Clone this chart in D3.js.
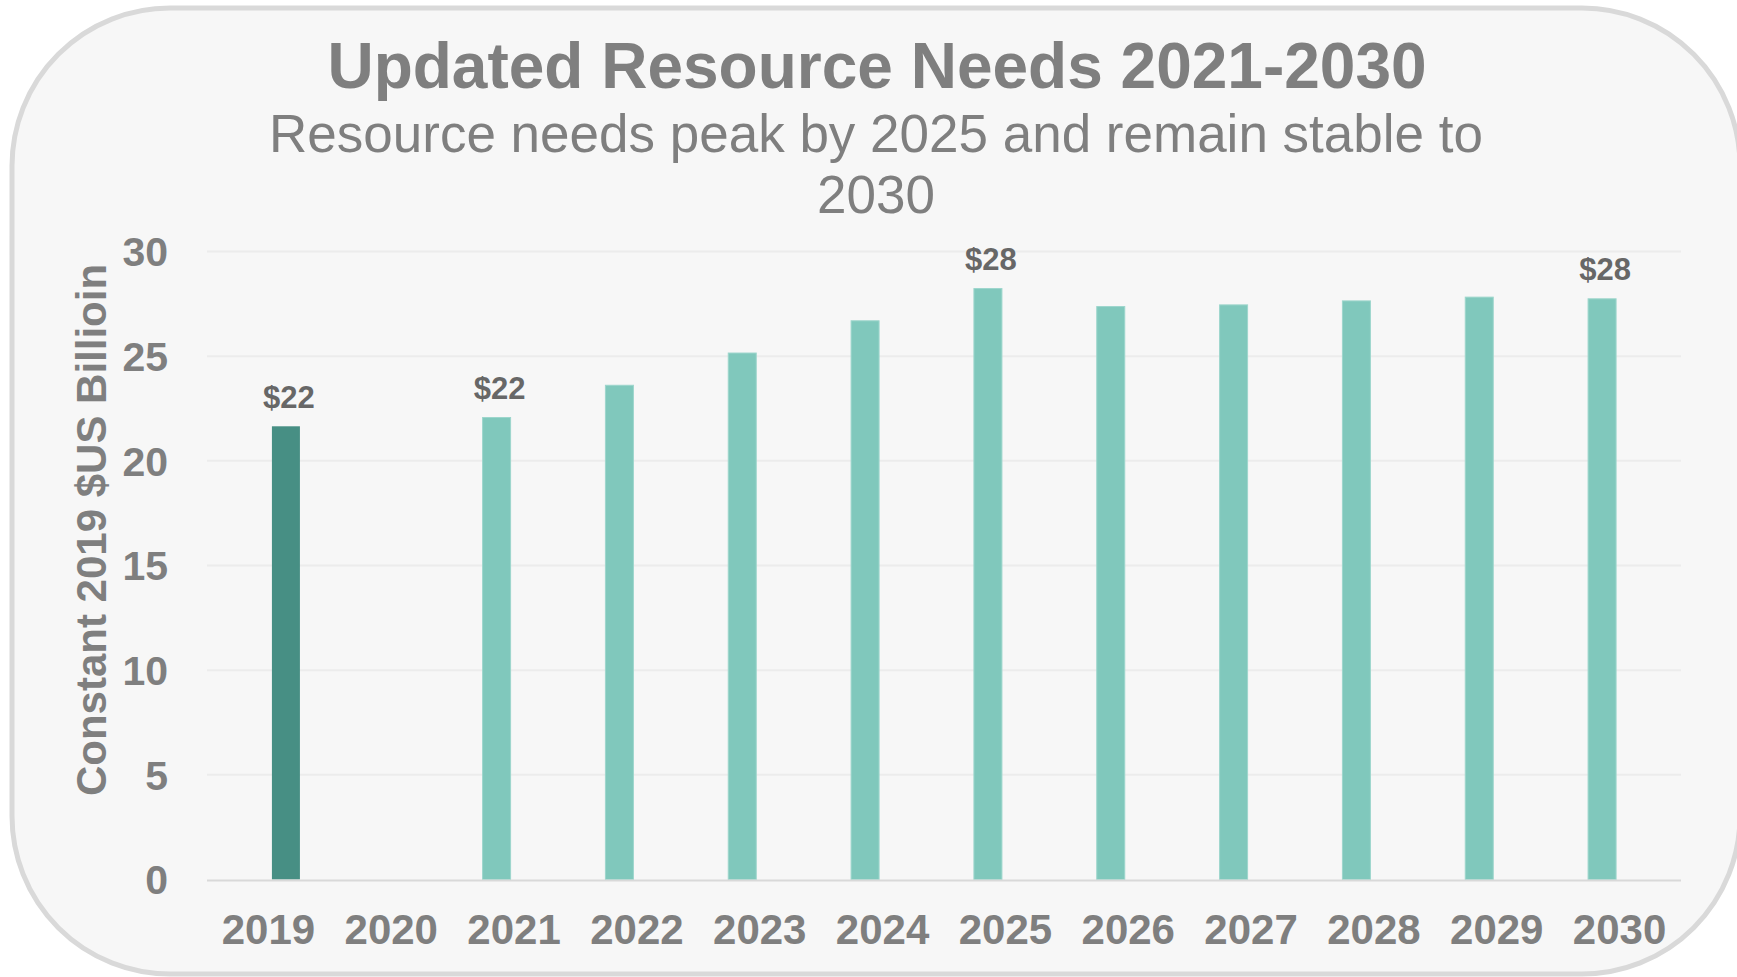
<!DOCTYPE html>
<html>
<head>
<meta charset="utf-8">
<script src="https://cdn.jsdelivr.net/npm/d3@7"></script>
<style>
  html, body { margin: 0; padding: 0; background: #ffffff; }
  svg { display: block; font-family: "Liberation Sans", Arial, Helvetica, sans-serif; }
</style>
</head>
<body>
<svg id="chart" width="1737" height="977"></svg>
<script>
// Resource needs, constant 2019 $US billion
const years = ["2019", "2020", "2021", "2022", "2023", "2024", "2025", "2026", "2027", "2028", "2029", "2030"];
const baselineNeeds = [21.65, null, null, null, null, null, null, null, null, null, null, null];
const projectedNeeds = [null, null, 22.07, 23.61, 25.15, 26.69, 28.23, 27.37, 27.45, 27.64, 27.82, 27.74];
const labelledYears = ["2019", "2021", "2025", "2030"];
const yTicks = [0, 5, 10, 15, 20, 25, 30];
const seriesKeys = ["projected", "baseline"];
const seriesColors = { projected: "#80c8bc", baseline: "#478f84" };

const titleText = "Updated Resource Needs 2021-2030";
const subtitleLines = ["Resource needs peak by 2025 and remain stable to", "2030"];
const yAxisTitle = "Constant 2019 $US Billioin";

const svg = d3.select("#chart");
const plot = { left: 207, right: 1681, top: 251.5, bottom: 879.5 };

// Rounded card background
svg.append("rect")
  .attr("x", 12).attr("y", 8)
  .attr("width", 1728).attr("height", 966)
  .attr("rx", 158).attr("ry", 158)
  .attr("fill", "#f7f7f7")
  .attr("stroke", "#d9d9d9")
  .attr("stroke-width", 5);

// Titles
svg.append("text")
  .attr("x", 877).attr("y", 88)
  .attr("text-anchor", "middle")
  .attr("font-size", 64).attr("font-weight", "bold")
  .attr("fill", "#7f7f7f")
  .text(titleText);

svg.append("text")
  .attr("text-anchor", "middle")
  .attr("font-size", 53)
  .attr("fill", "#7f7f7f")
  .selectAll("tspan")
  .data(subtitleLines)
  .join("tspan")
  .attr("x", 876)
  .attr("y", (d, i) => 152 + i * 61)
  .text(d => d);

// Scales
const x = d3.scaleBand().domain(years).range([plot.left, plot.right]).paddingInner(0).paddingOuter(0);
const step = x.step();
const xSub = d3.scaleBand().domain(seriesKeys)
  .range([step / 2 - 35, step / 2 + 35])
  .paddingInner(0.2).paddingOuter(0.1);
const y = d3.scaleLinear().domain([0, 30]).range([plot.bottom, plot.top]);

// Gridlines
svg.append("g")
  .selectAll("line")
  .data(yTicks.filter(t => t > 0))
  .join("line")
  .attr("x1", plot.left).attr("x2", plot.right)
  .attr("y1", d => y(d)).attr("y2", d => y(d))
  .attr("stroke", "#ececec").attr("stroke-width", 2);

// Y axis
const yAxis = svg.append("g")
  .attr("transform", `translate(${plot.left},0)`)
  .call(d3.axisLeft(y).tickValues(yTicks).tickSize(0).tickPadding(39));
yAxis.select(".domain").remove();
yAxis.selectAll("text")
  .attr("font-family", null)
  .attr("font-size", 41).attr("font-weight", "bold")
  .attr("fill", "#7f7f7f")
  .attr("dy", "0.35em");

// X axis
const xAxis = svg.append("g")
  .attr("transform", `translate(0,${plot.bottom})`)
  .call(d3.axisBottom(x).tickSize(0));
xAxis.select(".domain").remove();
xAxis.selectAll("text")
  .attr("font-family", null)
  .attr("font-size", 42).attr("font-weight", "bold")
  .attr("fill", "#7f7f7f")
  .attr("y", 64).attr("dy", 0);

// Bars
const rows = years.map((yr, i) => ({ year: yr, projected: projectedNeeds[i], baseline: baselineNeeds[i] }));
const barData = [];
rows.forEach(r => seriesKeys.forEach(k => { if (r[k] != null) barData.push({ year: r.year, key: k, value: r[k] }); }));

svg.append("g")
  .selectAll("rect")
  .data(barData)
  .join("rect")
  .attr("x", d => x(d.year) + xSub(d.key))
  .attr("y", d => y(d.value))
  .attr("width", xSub.bandwidth())
  .attr("height", d => y(0) - y(d.value))
  .attr("fill", d => seriesColors[d.key])
  .attr("stroke", d => d.key === "projected" ? "#9dd6cc" : "none")
  .attr("stroke-width", 1);

// Baseline axis line
svg.append("line")
  .attr("x1", plot.left).attr("x2", plot.right)
  .attr("y1", y(0) + 1).attr("y2", y(0) + 1)
  .attr("stroke", "#d9d9d9").attr("stroke-width", 2);

// Value labels
svg.append("g")
  .selectAll("text")
  .data(barData.filter(d => labelledYears.includes(d.year)))
  .join("text")
  .attr("x", d => x(d.year) + xSub(d.key) + xSub.bandwidth() / 2 + 3)
  .attr("y", d => y(d.value) - 18.5)
  .attr("text-anchor", "middle")
  .attr("font-size", 31).attr("font-weight", "bold")
  .attr("fill", "#676767")
  .text(d => "$" + Math.round(d.value));

// Y axis title
svg.append("text")
  .attr("transform", "translate(106,530) rotate(-90)")
  .attr("text-anchor", "middle")
  .attr("font-size", 42).attr("font-weight", "bold")
  .attr("fill", "#7f7f7f")
  .text(yAxisTitle);
</script>
</body>
</html>
